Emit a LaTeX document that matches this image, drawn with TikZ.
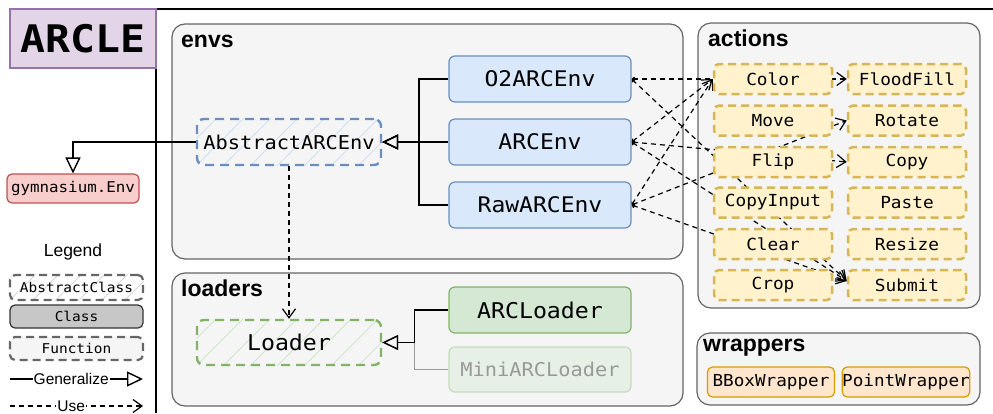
\documentclass[tikz,border=0pt]{standalone}
\usepackage{fontspec}
\setmainfont{Liberation Sans}
\newfontfamily\monof[FakeStretch=1.07]{DejaVu Sans Mono}
\newfontfamily\arclef[FakeStretch=1.09]{DejaVu Sans Mono}
\usetikzlibrary{arrows.meta}
\definecolor{contF}{HTML}{F5F5F5}
\definecolor{contD}{HTML}{666666}
\definecolor{envF}{HTML}{DAE8FC}
\definecolor{envD}{HTML}{6C8EBF}
\definecolor{ldF}{HTML}{D5E8D4}
\definecolor{ldD}{HTML}{82B366}
\definecolor{actF}{HTML}{FFF2CC}
\definecolor{actD}{HTML}{D6B656}
\definecolor{wrF}{HTML}{FFE6CC}
\definecolor{wrD}{HTML}{D79B00}
\definecolor{gymF}{HTML}{F8CECC}
\definecolor{gymD}{HTML}{B85450}
\definecolor{arF}{HTML}{E1D5E7}
\definecolor{arD}{HTML}{9673A6}
\definecolor{hatchB}{HTML}{CFE0F5}
\definecolor{hatchG}{HTML}{CFE5CC}
\definecolor{hatchK}{HTML}{D6D6D6}
\definecolor{miniF}{HTML}{E7F0E6}
\definecolor{miniD}{HTML}{C3DBBE}
\pgfdeclarelayer{bg}
\pgfdeclarelayer{mid}
\pgfsetlayers{bg,mid,main}
\newcommand\hatchit[4]{%
  \begin{scope}
  \clip[rounded corners=7pt] (#1.south west) rectangle (#1.north east);
  \foreach \i in {-3,...,#4} \draw[#2, line width=1pt] ([xshift=\i*#3pt]#1.south west) -- ++(80,-80);
  \end{scope}}
\tikzset{
  cont/.style={draw=contD, fill=contF, line width=1.2pt, rounded corners=13pt},
  head/.style={anchor=base west, inner sep=0pt, font=\bfseries\fontsize{23}{27}\selectfont},
  cls/.style={draw=envD, fill=envF, line width=1.2pt, rounded corners=6pt, minimum width=182pt, minimum height=46pt, inner sep=0pt, font=\monof\fontsize{21.5}{24}\selectfont},
  abscls/.style={draw=#1, dash pattern=on 9pt off 6pt, line width=2.4pt, rounded corners=7pt, minimum width=184pt, minimum height=46pt, inner sep=0pt, font=\monof\fontsize{19}{22}\selectfont},
  ldcls/.style={cls, draw=ldD, fill=ldF, font=\monof\fontsize{21.7}{24}\selectfont},
  act/.style={draw=actD, fill=actF, dash pattern=on 8pt off 5pt, line width=2.5pt, rounded corners=5pt, minimum width=118pt, minimum height=30pt, inner sep=0pt, font=\monof\fontsize{16.6}{19}\selectfont},
  wrp/.style={draw=wrD, fill=wrF, line width=1.2pt, rounded corners=5pt, minimum height=30pt, inner sep=0pt, font=\monof\fontsize{16.5}{19}\selectfont},
  lgbox/.style={minimum width=133pt, inner sep=0pt, rounded corners=5pt, font=\monof\fontsize{13.5}{16}\selectfont},
  genarrow/.style={line width=1.3pt, -{Triangle[open, length=16pt, width=15pt, line width=1.4pt]}},
  usearrow/.style={line width=1.2pt, dash pattern=on 5pt off 4pt, -{Straight Barb[length=9pt, width=13pt, line width=1.2pt]}},
  envuse/.style={usearrow, {Straight Barb[length=2pt, width=4pt]}-{Straight Barb[length=9pt, width=13pt, line width=1.2pt]}},
}
\begin{document}
\begin{tikzpicture}[x=1pt, y=-1pt]
\useasboundingbox (0,0) rectangle (993,413);
% frame
\draw[line width=1.2pt] (156,9) -- (993,9);
\draw[line width=1.2pt] (156,9) -- (156,413);
\node[draw=arD, fill=arF, line width=1.2pt, minimum width=146pt, minimum height=59pt, inner sep=0pt, font=\arclef\bfseries\fontsize{38}{42}\selectfont] (arcle) at (83,38.5) {ARCLE};
% containers
\begin{pgfonlayer}{bg}
\draw[cont] (172,24) rectangle (683,259);
\draw[cont] (172,273) rectangle (683,406);
\draw[cont] (698,23) rectangle (980,308);
\draw[cont] (697,333) rectangle (980,405);
\end{pgfonlayer}
\node[head] (henvs) at (181,47) {envs};
\node[head] (hload) at (181,296) {loaders};
\node[head] (hact) at (708,46) {actions};
\node[head] (hwrap) at (703,351) {wrappers};
% envs
\node[abscls=envD] (Abs) at (289,142) {AbstractARCEnv};
\node[cls] (O2) at (540,79) {O2ARCEnv};
\node[cls] (ARC) at (540,142) {ARCEnv};
\node[cls] (Raw) at (540,205) {RawARCEnv};
% loaders
\node[abscls=ldD, font=\monof\fontsize{21.7}{24}\selectfont, minimum height=45pt] (Loader) at (289,342.5) {Loader};
\node[ldcls] (ARCL) at (540,310) {ARCLoader};
\node[ldcls, draw=miniD, fill=miniF, text=black!40, font=\monof\fontsize{19}{22}\selectfont, minimum height=45pt] (Mini) at (540,369.5) {MiniARCLoader};
% actions
\node[act] (Color) at (773,79) {Color};
\node[act] (Move) at (773,120.5) {Move};
\node[act] (Flip) at (773,162) {Flip};
\node[act] (CopyInput) at (773,202.5) {CopyInput};
\node[act] (Clear) at (773,244) {Clear};
\node[act] (Crop) at (773,285) {Crop};
\node[act] (FloodFill) at (907,79) {FloodFill};
\node[act] (Rotate) at (907,120.5) {Rotate};
\node[act] (Copy) at (907,162) {Copy};
\node[act] (Paste) at (907,202.5) {Paste};
\node[act] (Resize) at (907,244) {Resize};
\node[act] (Submit) at (907,285) {Submit};
% wrappers
\node[wrp, minimum width=127pt] (BBox) at (771,382) {BBoxWrapper};
\node[wrp, minimum width=126pt] (Point) at (906,382) {PointWrapper};
% gymnasium
\node[draw=gymD, fill=gymF, line width=1.2pt, rounded corners=5pt, minimum width=132pt, minimum height=29pt, inner sep=0pt, font=\monof\fontsize{14.8}{17}\selectfont] (gym) at (73,188.5) {gymnasium.Env};
% legend
\node[font=\fontsize{17.5}{20}\selectfont] (legend) at (73,252) {Legend};
\node[lgbox, draw=contD, dash pattern=on 8pt off 5pt, line width=2.2pt, minimum height=25pt] (lgAbs) at (76.5,287.5) {AbstractClass};
\node[lgbox, draw=black!80, fill=black!22, line width=1.2pt, minimum height=23pt] (lgCls) at (76.5,316.5) {Class};
\node[lgbox, draw=contD, fill=contF, dash pattern=on 8pt off 5pt, line width=2.2pt, minimum height=23pt] (lgFun) at (76.5,348.5) {Function};
\coordinate (g1) at (10,379);
\coordinate (g2) at (143,379);
\coordinate (u1) at (10,406);
\coordinate (u2) at (143,406);
\draw[genarrow] (g1) -- (g2) node[pos=0.46, fill=white, inner sep=1pt, font=\fontsize{15.5}{17}\selectfont] {Generalize};
\draw[usearrow] (u1) -- (u2) node[pos=0.46, fill=white, inner sep=1pt, font=\fontsize{15.5}{17}\selectfont] {Use};
% hatches and connectors
\begin{pgfonlayer}{mid}
\hatchit{Abs}{hatchB}{27}{8}
\hatchit{Loader}{hatchG}{27}{8}
\hatchit{lgAbs}{hatchK}{23}{7}
\draw[envuse] (O2.east) -- (FloodFill.west);
\draw[envuse] (O2.east) -- ([yshift=4pt]Submit.west);
\draw[envuse] (ARC.east) -- (Color.west);
\draw[envuse] (ARC.east) -- (Copy.west);
\draw[envuse] (ARC.east) -- ([yshift=4pt]Submit.west);
\draw[envuse] (Raw.east) -- (Color.west);
\draw[envuse] (Raw.east) -- (Rotate.west);
\draw[envuse] (Raw.east) -- ([yshift=4pt]Submit.west);
\draw[usearrow] (Abs.south) -- (Loader.north);
\end{pgfonlayer}
% generalizations
\draw[genarrow] (O2.west) -- ++(-29.5,0) |- (Abs.east);
\draw[genarrow] (ARC.west) -- (Abs.east);
\draw[genarrow] (Raw.west) -- ++(-29.5,0) |- (Abs.east);
\draw[genarrow, draw=black!40] (Mini.west) -- ++(-34,0) |- (Loader.east);
\draw[genarrow] (ARCL.west) -- ++(-34,0) |- (Loader.east);
\draw[genarrow] (Abs.west) -| (gym.north);
\end{tikzpicture}
\end{document}
